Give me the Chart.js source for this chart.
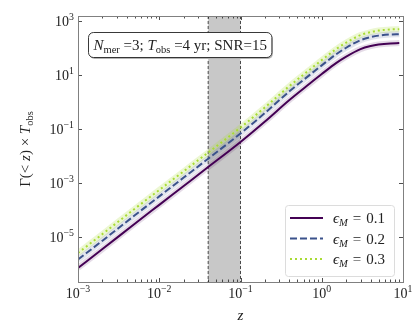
<!DOCTYPE html>
<html lang="en">
<head>
<meta charset="UTF-8">
<title>Cumulative merger rate</title>
<script src="https://cdn.jsdelivr.net/npm/chart.js@4.4.0/dist/chart.umd.min.js"></script>
<style>
    html, body { margin: 0; padding: 0; background: #fff; }
    #wrap { width: 415px; height: 332px; }
</style>
</head>
<body>
<div id="wrap"><canvas id="chart" width="415" height="332"></canvas></div>
<script>
    // values (log-log)
    const redshift = [0.001, 0.002, 0.005, 0.01, 0.02, 0.04, 0.1, 0.2, 0.4, 0.7, 1, 1.5, 2, 3, 4, 5, 7, 9];
    const rateEps01 = [7.08e-7, 3.55e-6, 3.09e-5, 1.55e-4, 7.76e-4, 3.89e-3, 3.31e-2, 0.190, 1.19, 4.64, 10.9, 27.8, 48.4, 91.8, 119, 135, 149, 153];
    const rateEps02 = [1.45e-6, 7.28e-6, 6.33e-5, 3.18e-4, 1.59e-3, 7.97e-3, 6.85e-2, 0.395, 2.50, 9.74, 22.9, 58.9, 103, 196, 255, 290, 320, 329];
    const rateEps03 = [2.55e-6, 1.28e-5, 1.11e-4, 5.50e-4, 2.72e-3, 1.34e-2, 0.113, 0.637, 3.93, 15.3, 36.0, 91.7, 160, 303, 393, 446, 492, 505];
    const epsLabels = ['0.1', '0.2', '0.3'];
    const xTickExponents = [-3, -2, -1, 0, 1];
    const yTickExponents = [-5, -3, -1, 1, 3];
    const bandRange = [0.04, 0.1];

    const SERIF = '"Liberation Serif", "DejaVu Serif", serif';
    const colors = ['#440154', '#3b528b', '#a8db34'];
    const halos = ['rgba(68,1,84,0.14)', 'rgba(59,82,139,0.15)', 'rgba(168,219,52,0.22)'];
    const dashes = [[], [7, 3], [2, 3]];
    const series = [rateEps01, rateEps02, rateEps03];

    // draw text with italic / sub / sup parts, returns width
    function rich(ctx, parts, x, y, size, draw) {
        let cx = x;
        parts.forEach(([t, k]) => {
            let fs = size, dy = 0, st = '';
            if (k === 'i' || k === 'subi') st = 'italic ';
            if (k === 'sub' || k === 'subi') { fs = size * 0.7; dy = size * 0.22; }
            if (k === 'sup') { fs = size * 0.7; dy = -size * 0.42; }
            ctx.font = st + fs + 'px ' + SERIF;
            if (draw) ctx.fillText(t, cx, y + dy);
            cx += ctx.measureText(t).width;
        });
        return cx - x;
    }

    function roundRect(ctx, x, y, w, h, r) {
        ctx.beginPath();
        ctx.moveTo(x + r, y);
        ctx.arcTo(x + w, y, x + w, y + h, r);
        ctx.arcTo(x + w, y + h, x, y + h, r);
        ctx.arcTo(x, y + h, x, y, r);
        ctx.arcTo(x, y, x + w, y, r);
        ctx.closePath();
    }

    const bandPlugin = {
        id: 'band',
        beforeDatasetsDraw(chart) {
            const { ctx, chartArea: a, scales: { x } } = chart;
            const x0 = x.getPixelForValue(bandRange[0]);
            const x1 = x.getPixelForValue(bandRange[1]);
            ctx.save();
            ctx.fillStyle = '#c8c8c8';
            ctx.fillRect(x0, a.top, x1 - x0, a.bottom - a.top);
            ctx.strokeStyle = '#222';
            ctx.lineWidth = 0.8;
            ctx.setLineDash([3, 2]);
            [x0, x1].forEach(px => {
                ctx.beginPath();
                ctx.moveTo(px, a.top);
                ctx.lineTo(px, a.bottom);
                ctx.stroke();
            });
            ctx.restore();
        }
    };

    const decorPlugin = {
        id: 'decor',
        afterDraw(chart) {
            const { ctx, chartArea: a, scales: { x, y } } = chart;
            ctx.save();
            ctx.fillStyle = '#222';
            ctx.strokeStyle = '#222';
            ctx.lineWidth = 0.8;

            // x ticks (inward, top and bottom)
            for (let e = -3; e <= 1; e++) {
                for (let m = 1; m <= 9; m++) {
                    const v = m * Math.pow(10, e);
                    if (v > 10) break;
                    const px = Math.round(x.getPixelForValue(v)) + 0.5;
                    const len = m === 1 ? 4 : 2.5;
                    ctx.beginPath();
                    ctx.moveTo(px, a.bottom); ctx.lineTo(px, a.bottom - len);
                    ctx.moveTo(px, a.top); ctx.lineTo(px, a.top + len);
                    ctx.stroke();
                }
            }
            // y ticks
            yTickExponents.forEach(e => {
                const py = Math.round(y.getPixelForValue(Math.pow(10, e))) + 0.5;
                ctx.beginPath();
                ctx.moveTo(a.left, py); ctx.lineTo(a.left + 4, py);
                ctx.moveTo(a.right, py); ctx.lineTo(a.right - 4, py);
                ctx.stroke();
            });

            // frame
            ctx.strokeStyle = '#808080';
            ctx.lineWidth = 1;
            ctx.strokeRect(Math.round(a.left) + 0.5, Math.round(a.top) + 0.5,
                Math.round(a.right - a.left), Math.round(a.bottom - a.top));

            // tick labels
            ctx.fillStyle = '#222';
            ctx.textBaseline = 'alphabetic';
            xTickExponents.forEach(e => {
                const parts = [['10', 'r'], [(e < 0 ? '\u2212' : '') + Math.abs(e), 'sup']];
                const w = rich(ctx, parts, 0, 0, 14, false);
                const px = x.getPixelForValue(Math.pow(10, e));
                rich(ctx, parts, px - w / 2, a.bottom + 16, 14, true);
            });
            yTickExponents.forEach(e => {
                const parts = [['10', 'r'], [(e < 0 ? '\u2212' : '') + Math.abs(e), 'sup']];
                const w = rich(ctx, parts, 0, 0, 14, false);
                const py = y.getPixelForValue(Math.pow(10, e));
                rich(ctx, parts, a.left - 4 - w, py + 5, 14, true);
            });

            // axis titles
            ctx.font = 'italic 15px ' + SERIF;
            ctx.textAlign = 'center';
            ctx.fillText('z', (a.left + a.right) / 2, 320);
            ctx.textAlign = 'left';
            const yl = [['\u0393(< ', 'r'], ['z', 'i'], [') \u00d7 ', 'r'], ['T', 'i'], ['obs', 'sub']];
            ctx.save();
            ctx.translate(30, (a.top + a.bottom) / 2);
            ctx.rotate(-Math.PI / 2);
            const wl = rich(ctx, yl, 0, 0, 15, false);
            rich(ctx, yl, -wl / 2, 0, 15, true);
            ctx.restore();

            // info box
            const info = [['N', 'i'], ['mer', 'sub'], [' =3; ', 'r'], ['T', 'i'], ['obs', 'sub'], [' =4 yr; SNR=15', 'r']];
            const wi = rich(ctx, info, 0, 0, 15, false);
            ctx.fillStyle = '#b4b4b4';
            roundRect(ctx, 89.5, 34, wi + 10, 25, 5);
            ctx.fill();
            ctx.fillStyle = '#fff';
            roundRect(ctx, 88.5, 32.5, wi + 10, 25, 5);
            ctx.fill();
            ctx.strokeStyle = '#222';
            ctx.lineWidth = 0.9;
            ctx.stroke();
            ctx.fillStyle = '#222';
            rich(ctx, info, 93.5, 50, 15, true);

            // legend
            ctx.fillStyle = 'rgba(255,255,255,0.8)';
            roundRect(ctx, 285.5, 205.5, 109, 71, 3);
            ctx.fill();
            ctx.strokeStyle = '#dcdcdc';
            ctx.lineWidth = 1;
            ctx.stroke();
            epsLabels.forEach((lab, i) => {
                const ry = 218 + i * 20.5;
                ctx.strokeStyle = colors[i];
                ctx.lineWidth = 2;
                ctx.setLineDash(dashes[i]);
                ctx.beginPath();
                ctx.moveTo(290, ry); ctx.lineTo(323, ry);
                ctx.stroke();
                ctx.setLineDash([]);
                ctx.fillStyle = '#222';
                rich(ctx, [['\u03f5', 'i'], ['M', 'subi'], ['\u2004=\u2004' + lab, 'r']], 333, ry + 5, 15, true);
            });
            ctx.restore();
        }
    };

    const datasets = [];
    series.forEach((vals, i) => {
        datasets.push({
            data: vals.map((v, j) => ({ x: redshift[j], y: v })),
            borderColor: halos[i],
            borderWidth: 6,
            pointRadius: 0,
            cubicInterpolationMode: 'monotone',
            order: 1
        });
        datasets.push({
            data: vals.map((v, j) => ({ x: redshift[j], y: v })),
            borderColor: colors[i],
            borderWidth: 2,
            borderDash: dashes[i],
            pointRadius: 0,
            cubicInterpolationMode: 'monotone',
            order: 0
        });
    });

    new Chart(document.getElementById('chart'), {
        type: 'line',
        data: { datasets },
        options: {
            responsive: false,
            animation: false,
            devicePixelRatio: 1,
            layout: { padding: { top: 16, right: 12, left: 0, bottom: 0 } },
            plugins: { legend: { display: false }, tooltip: { enabled: false } },
            scales: {
                x: {
                    type: 'logarithmic', min: 1e-3, max: 10,
                    grid: { display: false }, border: { display: false },
                    ticks: { display: false },
                    afterFit: s => { s.height = 50; }
                },
                y: {
                    type: 'logarithmic', min: Math.pow(10, -6.67), max: Math.pow(10, 3.19),
                    grid: { display: false }, border: { display: false },
                    ticks: { display: false },
                    afterFit: s => { s.width = 78; }
                }
            }
        },
        plugins: [bandPlugin, decorPlugin]
    });
</script>
</body>
</html>
